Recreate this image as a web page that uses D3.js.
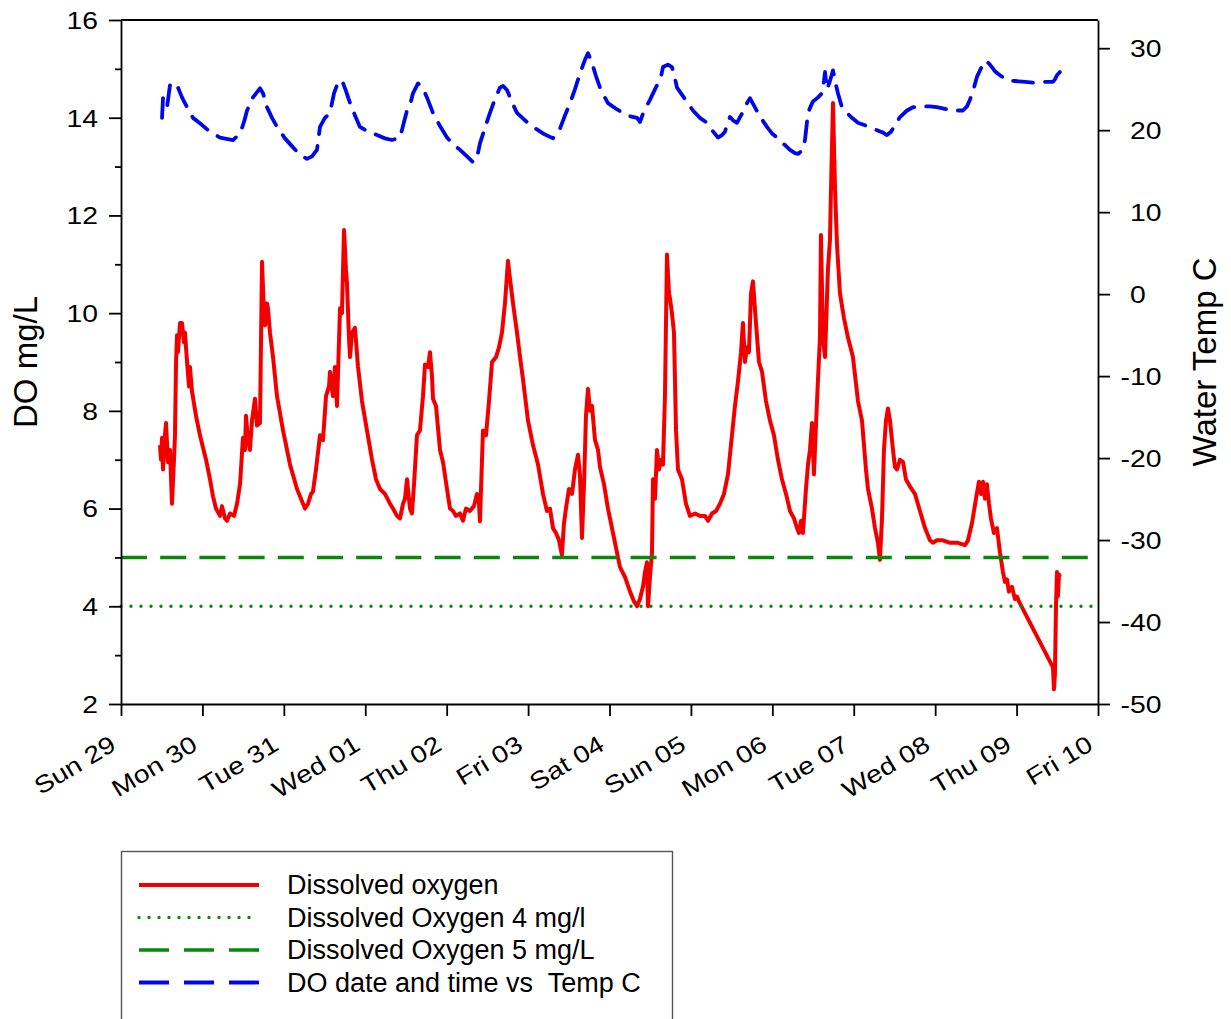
<!DOCTYPE html>
<html><head><meta charset="utf-8">
<script src="https://cdn.jsdelivr.net/npm/d3@7"></script>
<style>
body{margin:0;background:#fff;}
svg text{font-family:"Liberation Sans",Arial,sans-serif;fill:#000;}
</style></head><body>
<svg id="chart" width="1231" height="1019"></svg>
<script>
// ---------------- data ----------------
const startDate = "2015-03-29";
const endDate = "2015-04-10";

// Dissolved oxygen: time (days after Sun 29 00:00) and mg/L
const doDays = [0.479,0.491,0.504,0.516,0.540,0.553,0.577,0.602,0.626,0.651,0.663,0.676,0.688,0.700,0.725,0.749,0.774,0.786,0.811,0.835,0.847,0.872,0.921,0.970,1.044,1.093,1.130,1.167,1.216,1.240,1.277,1.302,1.339,1.388,1.425,1.462,1.498,1.523,1.535,1.560,1.584,1.609,1.646,1.670,1.707,1.732,1.756,1.769,1.793,1.805,1.830,1.867,1.916,1.990,2.076,2.162,2.223,2.260,2.297,2.334,2.358,2.395,2.444,2.481,2.518,2.555,2.567,2.604,2.628,2.653,2.690,2.714,2.739,2.763,2.776,2.800,2.813,2.837,2.874,2.911,2.960,3.021,3.083,3.132,3.181,3.242,3.304,3.341,3.390,3.427,3.464,3.488,3.513,3.549,3.574,3.599,3.635,3.672,3.709,3.734,3.771,3.795,3.820,3.832,3.869,3.918,3.955,4.004,4.041,4.078,4.114,4.164,4.200,4.237,4.286,4.335,4.372,4.397,4.409,4.422,4.446,4.483,4.520,4.557,4.606,4.643,4.679,4.716,4.753,4.778,4.815,4.864,4.901,4.937,4.999,5.060,5.122,5.183,5.232,5.269,5.306,5.343,5.380,5.416,5.441,5.465,5.502,5.539,5.576,5.613,5.637,5.662,5.687,5.711,5.736,5.760,5.785,5.822,5.859,5.883,5.932,5.981,6.043,6.092,6.129,6.190,6.252,6.301,6.338,6.374,6.411,6.436,6.460,6.473,6.497,6.522,6.534,6.559,6.583,6.608,6.632,6.657,6.681,6.706,6.731,6.743,6.767,6.792,6.817,6.841,6.890,6.939,6.988,7.050,7.111,7.173,7.210,7.259,7.308,7.357,7.406,7.455,7.492,7.541,7.578,7.615,7.639,7.664,7.689,7.713,7.738,7.762,7.799,7.836,7.873,7.922,7.971,8.020,8.069,8.118,8.168,8.217,8.266,8.303,8.327,8.352,8.376,8.413,8.438,8.462,8.487,8.511,8.536,8.561,8.585,8.597,8.622,8.647,8.671,8.683,8.708,8.720,8.745,8.769,8.794,8.831,8.880,8.929,8.990,9.052,9.101,9.150,9.175,9.224,9.261,9.297,9.322,9.347,9.371,9.396,9.420,9.445,9.482,9.506,9.531,9.568,9.605,9.641,9.691,9.752,9.813,9.875,9.936,9.973,10.022,10.096,10.182,10.280,10.366,10.403,10.452,10.501,10.538,10.563,10.587,10.612,10.636,10.661,10.685,10.722,10.759,10.796,10.833,10.857,10.882,10.906,10.943,10.980,11.005,11.029,11.447,11.459,11.471,11.484,11.496,11.508,11.521,11.533];
const doValues = [7.3,7.0,7.45,6.8,7.5,7.75,6.95,7.2,6.1,7.0,7.5,9.0,9.55,9.2,9.8,9.8,9.4,9.6,9.0,8.5,8.9,8.4,7.9,7.5,7.0,6.6,6.25,6.0,5.85,6.05,5.8,5.75,5.9,5.85,6.1,6.5,7.45,7.2,7.9,7.4,7.2,7.8,8.25,7.7,7.75,11.05,10.0,9.75,10.2,10.1,9.6,9.1,8.3,7.6,6.9,6.4,6.15,6.0,6.1,6.3,6.35,6.8,7.5,7.4,8.3,8.5,8.8,8.3,8.9,8.1,10.1,10.0,11.7,10.9,10.6,9.5,9.1,9.6,9.7,8.9,8.2,7.6,7.0,6.6,6.4,6.3,6.1,6.0,5.85,5.8,6.1,6.2,6.6,6.0,5.9,6.5,7.5,7.6,8.3,8.95,8.9,9.2,8.7,8.25,8.1,7.2,6.95,6.4,6.0,5.95,5.85,5.9,5.75,6.0,5.95,6.05,6.3,6.1,5.74,6.4,7.6,7.5,8.2,9.0,9.1,9.3,9.6,10.2,11.07,10.7,10.2,9.6,9.1,8.65,7.8,7.3,6.9,6.3,5.95,6.0,5.6,5.5,5.35,5.05,5.7,6.0,6.4,6.3,6.8,7.1,6.7,5.4,6.5,7.9,8.45,8.0,8.1,7.4,7.2,6.85,6.5,6.0,5.5,5.1,4.8,4.6,4.3,4.1,4.0,4.15,4.4,4.7,4.9,4.0,4.6,5.1,6.6,6.2,7.2,6.8,7.0,6.9,8.3,11.2,10.4,10.3,10.0,9.6,7.6,6.8,6.6,6.1,5.85,5.9,5.85,5.85,5.75,5.9,5.95,6.1,6.3,6.7,7.3,8.1,8.6,9.2,9.8,9.0,9.3,9.2,10.4,10.65,9.8,9.0,8.8,8.2,7.8,7.5,7.0,6.6,6.3,5.95,5.8,5.6,5.5,5.75,5.5,6.4,6.9,7.2,7.75,6.7,7.7,8.65,9.5,11.6,9.5,9.1,10.3,10.9,11.5,12.5,14.3,12.6,11.4,10.4,9.9,9.5,9.1,8.2,7.8,6.8,6.4,6.0,5.6,5.3,4.95,5.8,7.2,7.8,8.05,7.8,7.2,6.85,6.8,7.0,6.95,6.6,6.45,6.3,5.95,5.6,5.35,5.3,5.35,5.35,5.3,5.3,5.25,5.35,5.7,6.2,6.55,6.3,6.55,6.2,6.5,6.1,5.8,5.5,5.6,5.1,4.7,4.5,4.55,4.3,4.4,4.15,4.2,4.1,2.75,2.3,2.6,4.0,4.7,4.2,4.65,4.6];

// Water temperature: time (days after Sun 29 00:00) and deg C
const tempDays = [0.504,0.516,0.540,0.565,0.602,0.639,0.688,0.749,0.811,0.884,0.970,1.093,1.216,1.376,1.462,1.511,1.548,1.621,1.707,1.744,1.793,1.855,1.916,2.014,2.113,2.198,2.284,2.346,2.407,2.444,2.505,2.567,2.616,2.653,2.714,2.763,2.813,2.874,2.935,3.021,3.144,3.242,3.328,3.427,3.476,3.513,3.549,3.586,3.648,3.697,3.758,3.832,3.918,4.004,4.078,4.164,4.250,4.323,4.372,4.409,4.471,4.532,4.593,4.655,4.692,4.741,4.802,4.864,4.962,5.060,5.183,5.306,5.355,5.392,5.453,5.515,5.576,5.637,5.699,5.736,5.785,5.834,5.883,5.932,5.981,6.067,6.166,6.252,6.338,6.374,6.411,6.460,6.497,6.559,6.595,6.632,6.657,6.718,6.767,6.804,6.829,6.927,7.025,7.111,7.197,7.259,7.332,7.381,7.418,7.455,7.480,7.517,7.566,7.603,7.639,7.689,7.725,7.775,7.824,7.873,7.934,7.996,8.057,8.131,8.217,8.278,8.315,8.364,8.401,8.438,8.475,8.499,8.561,8.610,8.634,8.647,8.671,8.708,8.745,8.782,8.806,8.855,8.892,8.966,9.052,9.138,9.224,9.285,9.359,9.408,9.457,9.506,9.568,9.654,9.727,9.813,9.936,10.022,10.120,10.219,10.341,10.391,10.427,10.477,10.513,10.575,10.624,10.673,10.734,10.796,10.882,10.980,11.103,11.201,11.349,11.447,11.471,11.496,11.533];
const tempValues = [21.5,23.9,23.0,22.8,25.5,25.8,25.5,24.0,22.8,21.5,20.85,19.8,19.1,18.8,19.6,21.0,22.4,24.0,25.1,24.5,22.8,21.5,20.4,19.0,17.9,17.0,16.5,16.8,17.6,20.4,21.5,22.1,24.5,25.5,26.1,24.8,23.3,21.8,20.4,19.9,19.4,19.0,18.8,19.1,21.0,22.4,23.0,24.5,25.7,25.3,24.0,22.1,20.5,19.1,18.3,17.6,16.8,16.1,16.6,18.4,20.3,22.1,23.8,25.2,25.4,24.9,23.4,22.1,21.2,20.4,19.6,19.0,19.8,20.2,21.8,23.3,25.0,26.9,28.6,29.4,28.2,26.6,25.2,24.2,23.3,22.7,22.1,21.7,21.5,21.0,22.0,23.0,23.7,25.0,25.7,26.5,27.7,28.0,27.7,26.3,25.2,23.8,22.4,21.5,20.9,20.0,19.1,19.4,19.8,21.0,21.6,21.2,20.9,21.6,22.2,23.3,23.9,23.0,22.1,21.3,20.4,19.6,19.1,18.4,17.6,17.2,17.1,17.5,18.8,22.1,23.0,23.5,24.0,24.5,26.0,27.1,25.0,26.0,27.3,25.5,24.5,22.8,22.4,21.6,20.9,20.6,20.2,20.0,19.7,19.4,19.8,20.6,21.6,22.4,22.8,22.9,22.9,22.8,22.6,22.4,22.4,22.9,23.7,25.2,26.5,27.8,28.5,28.0,27.2,26.7,26.1,26.0,25.9,25.8,25.9,25.9,26.2,26.7,27.1];

const doLimit4 = 4;
const doLimit5 = 5;

const leftDomain = [2, 16];
const leftTicks = [2, 4, 6, 8, 10, 12, 14, 16];
const leftMinorTicks = [3, 5, 7, 9, 11, 13, 15];
const rightDomain = [-50, 33.44];
const rightTicks = [-50, -40, -30, -20, -10, 0, 10, 20, 30];

const leftTitle = "DO mg/L";
const rightTitle = "Water Temp C";
const legendLabels = ["Dissolved oxygen", "Dissolved Oxygen 4 mg/l", "Dissolved Oxygen 5 mg/L", "DO date and time vs  Temp C"];

// ---------------- drawing ----------------
const RED = "#f20000", GREEN = "#0b880b", BLUE = "#0008e6";
const svg = d3.select("#chart");
const t0 = Date.parse(startDate);
const toDate = d => new Date(t0 + d * 864e5);

const x = d3.scaleUtc().domain([new Date(startDate), new Date(endDate)]).range([121, 1098]);
const yL = d3.scaleLinear().domain(leftDomain).range([704, 20]);
const yR = d3.scaleLinear().domain(rightDomain).range([704, 20]);

const doData = doDays.map((d, i) => ({t: toDate(d), v: doValues[i]}));
const tempData = tempDays.map((d, i) => ({t: toDate(d), v: tempValues[i]}));

const lineL = d3.line().x(d => x(d.t)).y(d => yL(d.v));
const lineR = d3.line().x(d => x(d.t)).y(d => yR(d.v));

const plotG = svg.append("g");
plotG.append("path").datum(doData).attr("d", lineL)
  .attr("fill", "none").attr("stroke", RED).attr("stroke-width", 4)
  .attr("stroke-linejoin", "round");
plotG.append("path").datum(x.domain().map(t => ({t, v: doLimit4}))).attr("d", lineL)
  .attr("fill", "none").attr("stroke", GREEN).attr("stroke-width", 3.4)
  .attr("stroke-linecap", "round").attr("stroke-dasharray", "0,10");
plotG.append("path").datum(x.domain().map(t => ({t, v: doLimit5}))).attr("d", lineL)
  .attr("fill", "none").attr("stroke", GREEN).attr("stroke-width", 3.6)
  .attr("stroke-dasharray", "26,13.2");
plotG.append("path").datum(tempData).attr("d", lineR)
  .attr("fill", "none").attr("stroke", BLUE).attr("stroke-width", 3.8)
  .attr("stroke-linejoin", "round").attr("stroke-linecap", "round")
  .attr("stroke-dasharray", "20,12");

const STRETCH = 1.18, TICKFS = 24;
const plainFmt = d => String(d); // hyphen minus, as in the original
function styleAxis(g) {
  g.selectAll("path, line").attr("stroke", "#000").attr("stroke-width", 1.8);
  g.selectAll("text").attr("font-size", TICKFS).attr("fill", "#000")
    .attr("font-family", "'Liberation Sans', Arial, sans-serif");
}

// left axis
const gL = svg.append("g").attr("transform", `translate(${x.range()[0]},0)`)
  .call(d3.axisLeft(yL).tickValues(leftTicks).tickFormat(plainFmt).tickSize(12).tickSizeOuter(0));
styleAxis(gL);
gL.selectAll("text").attr("x", null).attr("dy", "0.35em")
  .attr("transform", "translate(-23,0) scale(" + STRETCH + ",1)");
const gLm = svg.append("g").attr("transform", `translate(${x.range()[0]},0)`)
  .call(d3.axisLeft(yL).tickValues(leftMinorTicks).tickFormat("").tickSize(6).tickSizeOuter(0));
gLm.select(".domain").remove();
styleAxis(gLm);

// right axis
const gR = svg.append("g").attr("transform", `translate(${x.range()[1]},0)`)
  .call(d3.axisRight(yR).tickValues(rightTicks).tickFormat(plainFmt).tickSize(12).tickSizeOuter(0));
styleAxis(gR);
gR.selectAll("text").attr("x", null).attr("dy", "0.35em").attr("text-anchor", "start")
  .attr("transform", d => `translate(${d < 0 ? 32 - 9.4 : 32},0) scale(${STRETCH},1)`);

// bottom axis
const gB = svg.append("g").attr("transform", `translate(0,${yL.range()[0]})`)
  .call(d3.axisBottom(x).ticks(d3.utcDay.every(1)).tickFormat(d3.utcFormat("%a %d")).tickSize(12).tickSizeOuter(0));
styleAxis(gB);
gB.selectAll("text").attr("y", null).attr("dy", null).attr("text-anchor", "end")
  .attr("transform", `translate(-4,45) rotate(-31) scale(${STRETCH},1)`);

// top frame line
svg.append("line").attr("x1", x.range()[0]).attr("x2", x.range()[1])
  .attr("y1", yL.range()[1]).attr("y2", yL.range()[1])
  .attr("stroke", "#000").attr("stroke-width", 1.8);

// axis titles
svg.append("text").attr("transform", `translate(37,${(yL.range()[0] + yL.range()[1]) / 2}) rotate(-90)`)
  .attr("text-anchor", "middle").attr("font-size", 33).text(leftTitle);
svg.append("text").attr("transform", `translate(1216,${(yL.range()[0] + yL.range()[1]) / 2}) rotate(-90)`)
  .attr("text-anchor", "middle").attr("font-size", 33).text(rightTitle);

// legend
const legendStyles = [
  {stroke: RED, width: 3.8, dash: null, cap: "butt"},
  {stroke: GREEN, width: 3.4, dash: "0,10", cap: "round"},
  {stroke: GREEN, width: 3.6, dash: "30,15", cap: "butt"},
  {stroke: BLUE, width: 3.8, dash: "30,15", cap: "butt"}
];
const lg = svg.append("g");
lg.append("rect").attr("x", 121.5).attr("y", 851.5).attr("width", 551).attr("height", 220)
  .attr("fill", "#fff").attr("stroke", "#555").attr("stroke-width", 1.4);
const rows = lg.selectAll("g.row").data(legendLabels).join("g").attr("class", "row")
  .attr("transform", (d, i) => `translate(0,${894 + i * 32.5})`);
rows.append("line").attr("x1", 139).attr("x2", 259).attr("y1", -9).attr("y2", -9)
  .attr("stroke", (d, i) => legendStyles[i].stroke)
  .attr("stroke-width", (d, i) => legendStyles[i].width)
  .attr("stroke-dasharray", (d, i) => legendStyles[i].dash)
  .attr("stroke-linecap", (d, i) => legendStyles[i].cap);
rows.append("text").attr("x", 287).attr("y", 0).attr("font-size", 27)
  .style("white-space", "pre").text(d => d);
</script>
</body></html>
